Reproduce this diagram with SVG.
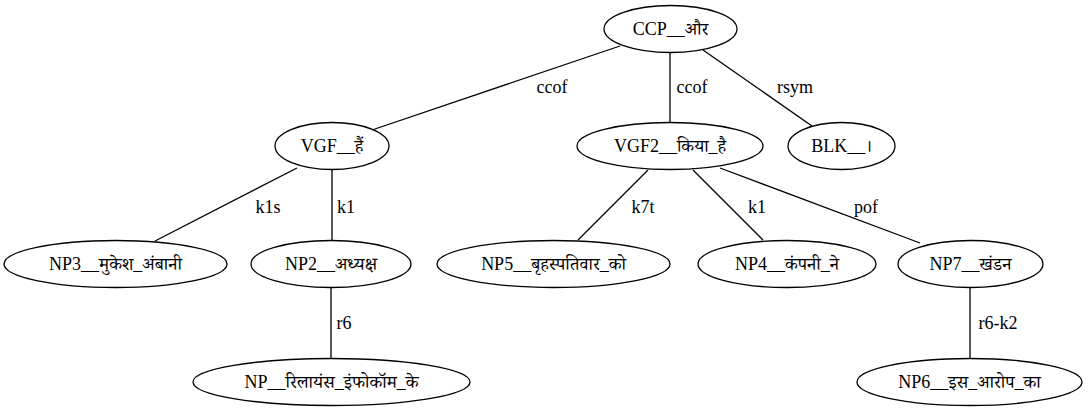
<svg xmlns="http://www.w3.org/2000/svg" width="1091" height="411" viewBox="0 0 1091 411">
<style>
ellipse{fill:none;stroke:#000;stroke-width:1.3}
line{stroke:#000;stroke-width:1.3}
text{font-family:"Liberation Serif","Noto Serif Devanagari",serif;font-size:18px;fill:#000;text-anchor:middle}
</style>
<rect width="1091" height="411" fill="#fff"/>
<g id="edges">
<line x1="620" y1="46" x2="372" y2="130"/><text x="552" y="93">ccof</text>
<line x1="670" y1="53" x2="670" y2="122"/><text x="692" y="93">ccof</text>
<line x1="703" y1="50" x2="812" y2="126"/><text x="795" y="93">rsym</text>
<line x1="297" y1="168" x2="155" y2="241"/><text x="268" y="213">k1s</text>
<line x1="332" y1="170" x2="332" y2="240"/><text x="346" y="213">k1</text>
<line x1="648" y1="170" x2="578" y2="240"/><text x="643" y="213">k7t</text>
<line x1="693" y1="170" x2="763" y2="240"/><text x="757" y="213">k1</text>
<line x1="720" y1="168" x2="920" y2="243"/><text x="866" y="213">pof</text>
<line x1="331" y1="288" x2="331" y2="358"/><text x="344" y="329">r6</text>
<line x1="970" y1="288" x2="970" y2="358"/><text x="998" y="329">r6-k2</text>
</g>
<g id="CCP"><ellipse cx="670.5" cy="29" rx="66.5" ry="23.5"/><text x="670.5" y="35">CCP__और</text></g>
<g id="VGF"><ellipse cx="332" cy="146" rx="57" ry="23.5"/><text x="332" y="152">VGF__हैं</text></g>
<g id="VGF2"><ellipse cx="670" cy="146" rx="93" ry="23.5"/><text x="670" y="152">VGF2__किया_है</text></g>
<g id="BLK"><ellipse cx="841.5" cy="146" rx="53.5" ry="23.5"/><text x="841.5" y="152">BLK__।</text></g>
<g id="NP3"><ellipse cx="115.5" cy="264" rx="111.5" ry="23.5"/><text x="115.5" y="270">NP3__मुकेश_अंबानी</text></g>
<g id="NP2"><ellipse cx="331" cy="264" rx="80" ry="23.5"/><text x="331" y="270">NP2__अध्यक्ष</text></g>
<g id="NP5"><ellipse cx="553.5" cy="264" rx="116.5" ry="23.5"/><text x="553.5" y="270">NP5__बृहस्पतिवार_को</text></g>
<g id="NP4"><ellipse cx="787" cy="264" rx="89" ry="23.5"/><text x="787" y="270">NP4__कंपनी_ने</text></g>
<g id="NP7"><ellipse cx="970.5" cy="264" rx="72.5" ry="23.5"/><text x="970.5" y="270">NP7__खंडन</text></g>
<g id="NP"><ellipse cx="331.5" cy="382" rx="138.5" ry="23.5"/><text x="331.5" y="388">NP__रिलायंस_इंफोकॉम_के</text></g>
<g id="NP6"><ellipse cx="969.5" cy="382" rx="112.5" ry="23.5"/><text x="969.5" y="388">NP6__इस_आरोप_का</text></g>
</svg>
